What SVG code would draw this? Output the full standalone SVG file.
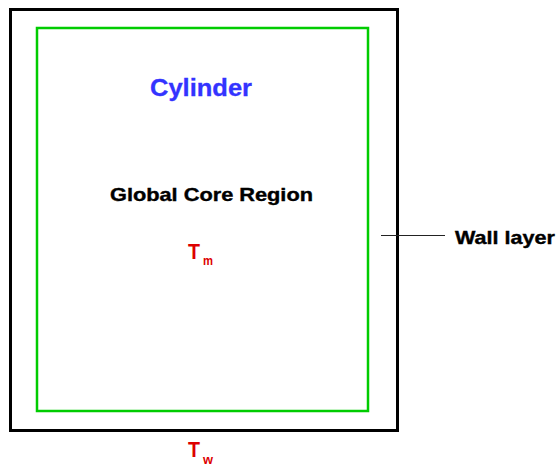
<svg xmlns="http://www.w3.org/2000/svg" width="560" height="473" viewBox="0 0 560 473">
  <style>
    text { font-family: "Liberation Sans", Arial, sans-serif; font-weight: bold; }
    .lbl { fill: #000000; stroke: #000000; stroke-width: 0.4; }
    .title { fill: #3333ff; stroke: #3333ff; stroke-width: 0.3; }
    .temp { fill: #dd0000; }
  </style>
  <rect width="560" height="473" fill="#ffffff"/>

  <!-- outer wall of the cylinder -->
  <g id="wall">
    <rect x="10.5" y="9.5" width="387" height="421" fill="none" stroke="#000000" stroke-width="3"/>
  </g>

  <!-- core region inside the wall -->
  <g id="core">
    <rect x="37" y="28" width="331" height="383" fill="none" stroke="#00cc00" stroke-width="2.5"/>
    <text class="title" x="150" y="96" font-size="24" textLength="102" lengthAdjust="spacingAndGlyphs">Cylinder</text>
    <text class="lbl" x="110" y="201" font-size="19" textLength="203" lengthAdjust="spacingAndGlyphs">Global Core Region</text>
    <text class="temp" x="188" y="259" font-size="22" textLength="12" lengthAdjust="spacingAndGlyphs">T</text>
    <text class="temp" x="203" y="265" font-size="12" textLength="10" lengthAdjust="spacingAndGlyphs">m</text>
  </g>

  <!-- wall temperature label -->
  <g id="wall-temp">
    <text class="temp" x="188" y="457" font-size="22" textLength="12" lengthAdjust="spacingAndGlyphs">T</text>
    <text class="temp" x="203" y="464" font-size="12" textLength="10" lengthAdjust="spacingAndGlyphs">w</text>
  </g>

  <!-- leader line to the wall label -->
  <g id="connectors">
    <line x1="381" y1="235.5" x2="445" y2="235.5" stroke="#222222" stroke-width="1"/>
  </g>

  <g id="wall-label">
    <text class="lbl" x="455" y="244" font-size="19" textLength="100" lengthAdjust="spacingAndGlyphs">Wall layer</text>
  </g>
</svg>
